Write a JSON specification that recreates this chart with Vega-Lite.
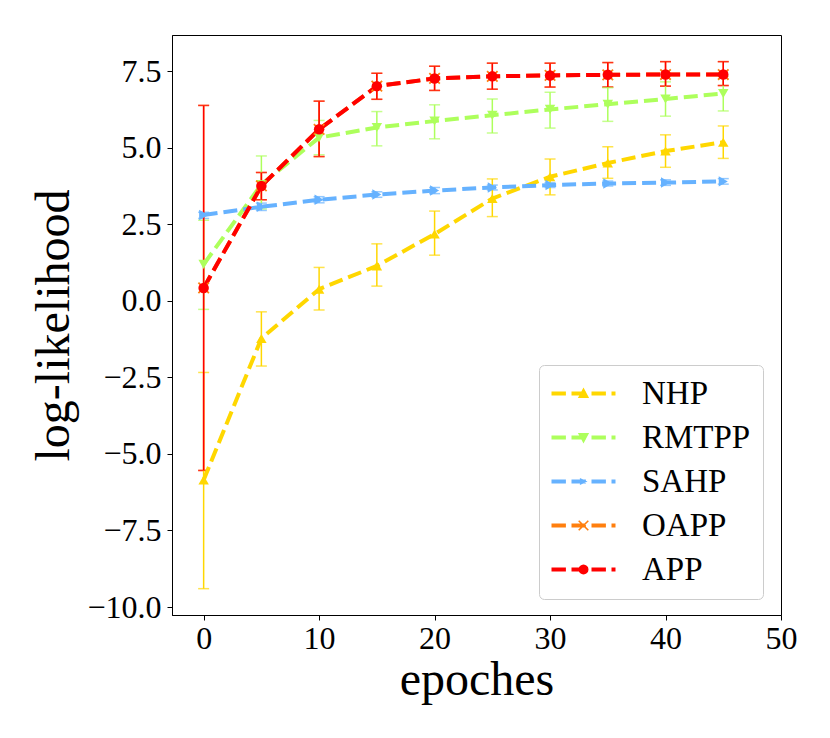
{
  "$schema": "https://vega.github.io/schema/vega-lite/v6.json",
  "width": 609,
  "height": 580,
  "autosize": "none",
  "padding": {"left": 172, "top": 35, "right": 49, "bottom": 123},
  "background": "white",
  "config": {
    "view": {"stroke": "black", "strokeWidth": 1},
    "font": "Liberation Serif, Times New Roman, DejaVu Serif, serif",
    "axis": {
      "labelFont": "Liberation Serif, Times New Roman, DejaVu Serif, serif", "labelFontSize": 32, "labelColor": "black",
      "titleFont": "Liberation Serif, Times New Roman, DejaVu Serif, serif", "titleFontSize": 48, "titleFontWeight": "normal", "titleColor": "black",
      "domainColor": "black", "tickColor": "black", "tickSize": 5, "grid": false
    },
    "axisX": {"labelPadding": 3},
    "axisY": {"labelPadding": 6},
    "legend": {
      "labelFont": "Liberation Serif, Times New Roman, DejaVu Serif, serif", "labelFontSize": 33, "labelColor": "black", "labelLimit": 0
    }
  },
  "data": {
    "values": [
      {"model": "NHP", "epoch": 0, "mean": -5.85, "lo": -9.40, "hi": -2.34},
      {"model": "NHP", "epoch": 5, "mean": -1.23, "lo": -2.13, "hi": -0.36},
      {"model": "NHP", "epoch": 10, "mean": 0.38, "lo": -0.30, "hi": 1.09},
      {"model": "NHP", "epoch": 15, "mean": 1.14, "lo": 0.48, "hi": 1.86},
      {"model": "NHP", "epoch": 20, "mean": 2.18, "lo": 1.49, "hi": 2.93},
      {"model": "NHP", "epoch": 25, "mean": 3.34, "lo": 2.75, "hi": 3.98},
      {"model": "NHP", "epoch": 30, "mean": 4.05, "lo": 3.46, "hi": 4.63},
      {"model": "NHP", "epoch": 35, "mean": 4.50, "lo": 4.00, "hi": 5.03},
      {"model": "NHP", "epoch": 40, "mean": 4.89, "lo": 4.36, "hi": 5.42},
      {"model": "NHP", "epoch": 45, "mean": 5.18, "lo": 4.65, "hi": 5.71},
      {"model": "RMTPP", "epoch": 0, "mean": 1.19, "lo": -0.28, "hi": 2.63},
      {"model": "RMTPP", "epoch": 5, "mean": 3.80, "lo": 3.00, "hi": 4.73},
      {"model": "RMTPP", "epoch": 10, "mean": 5.33, "lo": 4.77, "hi": 5.89},
      {"model": "RMTPP", "epoch": 15, "mean": 5.66, "lo": 5.06, "hi": 6.18},
      {"model": "RMTPP", "epoch": 20, "mean": 5.87, "lo": 5.29, "hi": 6.40},
      {"model": "RMTPP", "epoch": 25, "mean": 6.06, "lo": 5.48, "hi": 6.59},
      {"model": "RMTPP", "epoch": 30, "mean": 6.25, "lo": 5.64, "hi": 6.81},
      {"model": "RMTPP", "epoch": 35, "mean": 6.42, "lo": 5.86, "hi": 6.96},
      {"model": "RMTPP", "epoch": 40, "mean": 6.59, "lo": 6.03, "hi": 7.15},
      {"model": "RMTPP", "epoch": 45, "mean": 6.77, "lo": 6.20, "hi": 7.33},
      {"model": "SAHP", "epoch": 0, "mean": 2.80, "lo": 2.69, "hi": 2.89},
      {"model": "SAHP", "epoch": 5, "mean": 3.07, "lo": 2.95, "hi": 3.19},
      {"model": "SAHP", "epoch": 10, "mean": 3.30, "lo": 3.20, "hi": 3.40},
      {"model": "SAHP", "epoch": 15, "mean": 3.47, "lo": 3.38, "hi": 3.56},
      {"model": "SAHP", "epoch": 20, "mean": 3.60, "lo": 3.50, "hi": 3.70},
      {"model": "SAHP", "epoch": 25, "mean": 3.70, "lo": 3.62, "hi": 3.78},
      {"model": "SAHP", "epoch": 30, "mean": 3.78, "lo": 3.70, "hi": 3.86},
      {"model": "SAHP", "epoch": 35, "mean": 3.83, "lo": 3.75, "hi": 3.91},
      {"model": "SAHP", "epoch": 40, "mean": 3.86, "lo": 3.77, "hi": 3.95},
      {"model": "SAHP", "epoch": 45, "mean": 3.90, "lo": 3.81, "hi": 3.99},
      {"model": "OAPP", "epoch": 0, "mean": 0.42, "lo": -5.54, "hi": 6.38},
      {"model": "OAPP", "epoch": 5, "mean": 3.75, "lo": 3.30, "hi": 4.19},
      {"model": "OAPP", "epoch": 10, "mean": 5.60, "lo": 4.71, "hi": 6.52},
      {"model": "OAPP", "epoch": 15, "mean": 7.01, "lo": 6.58, "hi": 7.43},
      {"model": "OAPP", "epoch": 20, "mean": 7.26, "lo": 6.87, "hi": 7.66},
      {"model": "OAPP", "epoch": 25, "mean": 7.33, "lo": 6.91, "hi": 7.76},
      {"model": "OAPP", "epoch": 30, "mean": 7.36, "lo": 6.98, "hi": 7.76},
      {"model": "OAPP", "epoch": 35, "mean": 7.38, "lo": 6.98, "hi": 7.78},
      {"model": "OAPP", "epoch": 40, "mean": 7.39, "lo": 7.01, "hi": 7.81},
      {"model": "OAPP", "epoch": 45, "mean": 7.39, "lo": 7.03, "hi": 7.81},
      {"model": "APP", "epoch": 0, "mean": 0.42, "lo": -5.54, "hi": 6.38},
      {"model": "APP", "epoch": 5, "mean": 3.75, "lo": 3.30, "hi": 4.19},
      {"model": "APP", "epoch": 10, "mean": 5.60, "lo": 4.71, "hi": 6.52},
      {"model": "APP", "epoch": 15, "mean": 7.01, "lo": 6.58, "hi": 7.43},
      {"model": "APP", "epoch": 20, "mean": 7.26, "lo": 6.87, "hi": 7.66},
      {"model": "APP", "epoch": 25, "mean": 7.33, "lo": 6.91, "hi": 7.76},
      {"model": "APP", "epoch": 30, "mean": 7.36, "lo": 6.98, "hi": 7.76},
      {"model": "APP", "epoch": 35, "mean": 7.38, "lo": 6.98, "hi": 7.78},
      {"model": "APP", "epoch": 40, "mean": 7.39, "lo": 7.01, "hi": 7.81},
      {"model": "APP", "epoch": 45, "mean": 7.39, "lo": 7.03, "hi": 7.81}
    ]
  },
  "encoding": {
    "x": {
      "field": "epoch", "type": "quantitative",
      "scale": {"domain": [-2.74, 50], "nice": false, "zero": false},
      "axis": {"title": "epoches", "values": [0, 10, 20, 30, 40, 50], "format": "d", "labelFlush": false, "titlePadding": 2}
    }
  },
  "resolve": {"legend": {"color": "independent"}},
  "layer": [
    {
      "mark": {"type": "errorbar", "ticks": {"size": 11}, "thickness": 1.5},
      "encoding": {
        "y": {
          "field": "lo", "type": "quantitative",
          "scale": {"domain": [-10.26, 8.68], "nice": false, "zero": false},
          "axis": {"title": "log-likelihood", "values": [-10, -7.5, -5, -2.5, 0, 2.5, 5, 7.5], "format": ".1f", "titlePadding": 8}
        },
        "y2": {"field": "hi"},
        "color": {
          "field": "model", "type": "nominal", "legend": null,
          "scale": {"domain": ["NHP", "RMTPP", "SAHP", "OAPP", "APP"], "range": ["#ffd700", "#adff5c", "#66b2ff", "#ff7f0e", "#ff0000"]}
        }
      }
    },
    {
      "mark": {"type": "line", "strokeWidth": 4, "strokeDash": [14, 6]},
      "encoding": {
        "y": {"field": "mean", "type": "quantitative", "title": "log-likelihood"},
        "color": {"field": "model", "type": "nominal", "legend": null}
      }
    },
    {
      "mark": {"type": "point", "filled": true, "opacity": 1},
      "encoding": {
        "y": {"field": "mean", "type": "quantitative", "title": "log-likelihood"},
        "color": {
          "field": "model", "type": "nominal",
          "legend": {
            "title": null,
            "orient": "none",
            "legendX": 367,
            "legendY": 330,
            "padding": 12,
            "rowPadding": 10,
            "strokeColor": "#cccccc",
            "fillColor": "rgba(255,255,255,0.8)",
            "cornerRadius": 5,
            "symbolSize": 256,
            "symbolOpacity": 1,
            "symbolStrokeWidth": 0,
            "labelOffset": 58,
            "encode": {
              "symbols": {
                "update": {
                  "shape": {"signal": "datum.value === 'NHP' ? 'M-2,-0.25H-0.2V0.25H-2Z M0.5,-0.25H2.3V0.25H0.5Z M3,-0.25H4.8V0.25H3Z M5.5,-0.25H6V0.25H5.5Z M2,-0.75L2.7,0.55L1.3,0.55Z' : datum.value === 'RMTPP' ? 'M-2,-0.25H-0.2V0.25H-2Z M0.5,-0.25H2.3V0.25H0.5Z M3,-0.25H4.8V0.25H3Z M5.5,-0.25H6V0.25H5.5Z M1.3,-0.55L2.7,-0.55L2,0.75Z' : datum.value === 'SAHP' ? 'M-2,-0.25H-0.2V0.25H-2Z M0.5,-0.25H2.3V0.25H0.5Z M3,-0.25H4.8V0.25H3Z M5.5,-0.25H6V0.25H5.5Z M1.55,-0.45L2.5,0L1.55,0.45Z' : datum.value === 'OAPP' ? 'M-2,-0.25H-0.2V0.25H-2Z M0.5,-0.25H2.3V0.25H0.5Z M3,-0.25H4.8V0.25H3Z M5.5,-0.25H6V0.25H5.5Z M1.47,-0.67L2.67,0.53L2.53,0.67L1.33,-0.53Z M2.53,-0.67L2.67,-0.53L1.47,0.67L1.33,0.53Z' : 'M-2,-0.25H-0.2V0.25H-2Z M0.5,-0.25H2.3V0.25H0.5Z M3,-0.25H4.8V0.25H3Z M5.5,-0.25H6V0.25H5.5Z M2.625,0L2.577,0.239L2.442,0.442L2.239,0.577L2,0.625L1.761,0.577L1.558,0.442L1.423,0.239L1.375,0L1.423,-0.239L1.558,-0.442L1.761,-0.577L2,-0.625L2.239,-0.577L2.442,-0.442L2.577,-0.239Z'"}
                }
              }
            }
          }
        },
        "shape": {
          "field": "model", "type": "nominal", "legend": null,
          "scale": {
            "domain": ["NHP", "RMTPP", "SAHP", "OAPP", "APP"],
            "range": ["triangle-up", "triangle-down", "triangle-right", "M-0.88,-1.12L1.12,0.88L0.88,1.12L-1.12,-0.88Z M0.88,-1.12L1.12,-0.88L-0.88,1.12L-1.12,0.88Z", "circle"]
          }
        },
        "size": {
          "field": "model", "type": "nominal", "legend": null,
          "scale": {"domain": ["NHP", "RMTPP", "SAHP", "OAPP", "APP"], "range": [110, 110, 45, 80, 80]}
        }
      }
    }
  ]
}
